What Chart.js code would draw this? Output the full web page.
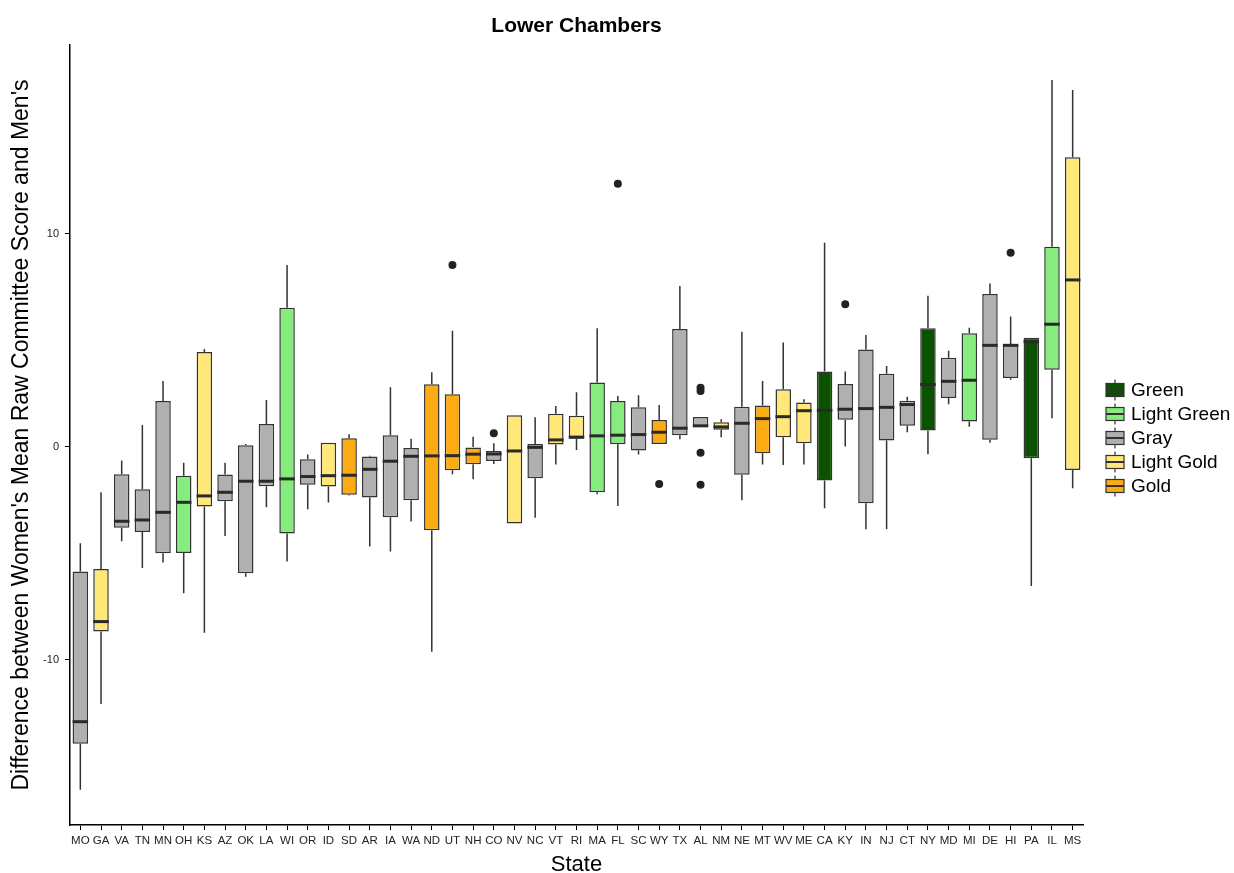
<!DOCTYPE html>
<html>
<head>
<meta charset="utf-8">
<script src="https://cdn.jsdelivr.net/npm/chart.js@4.4.1/dist/chart.umd.min.js"></script>
<style>
  html, body { margin: 0; padding: 0; background: #ffffff; }
  #wrap { width: 1234px; height: 873px; }
</style>
</head>
<body>
<div id="wrap"><canvas id="c" width="1234" height="873"></canvas></div>
<script>
// ---- data ----
const states = ["MO","GA","VA","TN","MN","OH","KS","AZ","OK","LA","WI","OR","ID","SD","AR","IA","WA","ND","UT","NH","CO","NV","NC","VT","RI","MA","FL","SC","WY","TX","AL","NM","NE","MT","WV","ME","CA","KY","IN","NJ","CT","NY","MD","MI","DE","HI","PA","IL","MS"];
const groups = ["Gray","Light Gold","Gray","Gray","Gray","Light Green","Light Gold","Gray","Gray","Gray","Light Green","Gray","Light Gold","Gold","Gray","Gray","Gray","Gold","Gold","Gold","Gray","Light Gold","Gray","Light Gold","Light Gold","Light Green","Light Green","Gray","Gold","Gray","Gray","Light Gold","Gray","Gold","Light Gold","Light Gold","Green","Gray","Gray","Gray","Gray","Green","Gray","Light Green","Gray","Gray","Green","Light Green","Light Gold"];
const whiskerLow  = [-16.1,-12.07,-4.43,-5.68,-5.43,-6.87,-8.72,-4.18,-6.09,-2.83,-5.38,-2.93,-2.61,-2.28,-4.68,-4.91,-3.5,-9.62,-1.28,-1.52,-0.8,-3.6,-3.32,-0.83,-0.14,-2.22,-2.77,-0.36,0.14,0.36,0.94,0.46,-2.5,-0.83,-0.85,-0.83,-2.88,0.02,-3.86,-3.86,0.69,-0.34,2.0,0.95,0.2,3.15,-6.53,1.35,-1.94];
const quartile1   = [-13.94,-8.67,-3.8,-3.99,-4.99,-4.98,-2.8,-2.55,-5.93,-1.85,-4.07,-1.77,-1.86,-2.25,-2.38,-3.3,-2.5,-3.91,-1.1,-0.81,-0.66,-3.6,-1.47,0.11,0.38,-2.13,0.13,-0.17,0.14,0.55,0.94,0.81,-1.31,-0.3,0.46,0.17,-1.58,1.28,-2.65,0.3,1.0,0.77,2.3,1.19,0.34,3.24,-0.53,3.62,-1.08];
const medians     = [-12.9,-8.2,-3.49,-3.43,-3.07,-2.6,-2.3,-2.13,-1.61,-1.61,-1.5,-1.39,-1.35,-1.33,-1.05,-0.67,-0.44,-0.42,-0.41,-0.34,-0.33,-0.19,-0.02,0.33,0.46,0.52,0.55,0.58,0.69,0.88,0.99,0.94,1.11,1.33,1.42,1.7,1.72,1.77,1.8,1.86,1.99,2.93,3.08,3.13,4.77,4.77,4.94,5.76,7.84];
const quartile3   = [-5.85,-5.73,-1.28,-1.99,2.16,-1.35,4.46,-1.3,0.08,1.08,6.53,-0.58,0.2,0.41,-0.45,0.55,-0.05,2.94,2.47,0.0,-0.19,1.49,0.14,1.56,1.46,3.02,2.16,1.86,1.27,5.54,1.41,1.16,1.89,1.94,2.71,2.08,3.54,2.96,4.57,3.43,2.17,5.57,4.19,5.34,7.18,4.8,5.12,9.4,13.6];
const whiskerHigh = [-4.52,-2.13,-0.64,1.03,3.1,-0.74,4.6,-0.74,0.14,2.2,8.54,-0.36,0.2,0.6,-0.42,2.8,0.38,3.51,5.46,0.48,0.17,1.49,1.39,1.92,2.57,5.57,2.39,2.43,1.97,7.56,1.41,1.3,5.41,3.1,4.9,2.24,9.59,3.54,5.26,3.8,2.36,7.1,4.52,5.6,7.67,6.12,5.13,17.23,16.76];
const outlierStates = ["UT","CO","FL","WY","AL","AL","AL","AL","KY","HI"];
const outlierValues = [8.54,0.64,12.35,-1.74,2.78,2.63,-0.27,-1.78,6.7,9.12];
const legendNames = ["Green","Light Green","Gray","Light Gold","Gold"];
const yTickValues = [-10, 0, 10];

// ---- styles ----
const palette = {"Green":"#0b5100","Light Green":"#85ec7e","Gray":"#b0b0b0","Light Gold":"#ffe877","Gold":"#fbab13"};
const lineCol = "#333333";
const FONT = "'Liberation Sans', Arial, Helvetica, sans-serif";

const boxPlugin = {
  id: 'boxExtras',
  beforeDatasetsDraw(chart) {
    const ctx = chart.ctx, x = chart.scales.x, y = chart.scales.y;
    ctx.save();
    ctx.strokeStyle = lineCol;
    ctx.lineWidth = 1.5;
    states.forEach((s, i) => {
      const px = x.getPixelForValue(i);
      ctx.beginPath();
      ctx.moveTo(px, y.getPixelForValue(whiskerHigh[i]));
      ctx.lineTo(px, y.getPixelForValue(quartile3[i]));
      ctx.moveTo(px, y.getPixelForValue(quartile1[i]));
      ctx.lineTo(px, y.getPixelForValue(whiskerLow[i]));
      ctx.stroke();
    });
    ctx.restore();
  },
  afterDatasetsDraw(chart) {
    const ctx = chart.ctx, x = chart.scales.x, y = chart.scales.y;
    const meta = chart.getDatasetMeta(0);
    ctx.save();
    ctx.strokeStyle = "#2a2a2a";
    ctx.lineWidth = 3;
    states.forEach((s, i) => {
      const bar = meta.data[i];
      const half = bar.width / 2;
      const py = y.getPixelForValue(medians[i]);
      ctx.beginPath();
      ctx.moveTo(bar.x - half, py);
      ctx.lineTo(bar.x + half, py);
      ctx.stroke();
    });
    ctx.fillStyle = "#222222";
    outlierStates.forEach((s, k) => {
      const px = x.getPixelForValue(states.indexOf(s));
      const py = y.getPixelForValue(outlierValues[k]);
      ctx.beginPath();
      ctx.arc(px, py, 4, 0, Math.PI * 2);
      ctx.fill();
    });
    ctx.restore();
  },
  afterDraw(chart) {
    const ctx = chart.ctx, a = chart.chartArea;
    ctx.save();
    // title
    ctx.fillStyle = "#000";
    ctx.font = "bold 21px " + FONT;
    ctx.textAlign = "center";
    ctx.textBaseline = "middle";
    ctx.fillText("Lower Chambers", (a.left + a.right) / 2, 26);
    // legend
    const lx = 1106, kw = 18, kh = 13, y0 = 390, dy = 24;
    ctx.font = "19px " + FONT;
    ctx.textAlign = "left";
    legendNames.forEach((name, i) => {
      const cy = y0 + i * dy;
      ctx.strokeStyle = lineCol;
      ctx.lineWidth = 1.2;
      ctx.beginPath();
      ctx.moveTo(lx + kw / 2, cy - kh / 2 - 4);
      ctx.lineTo(lx + kw / 2, cy - kh / 2);
      ctx.moveTo(lx + kw / 2, cy + kh / 2);
      ctx.lineTo(lx + kw / 2, cy + kh / 2 + 4);
      ctx.stroke();
      ctx.fillStyle = palette[name];
      ctx.fillRect(lx, cy - kh / 2, kw, kh);
      ctx.strokeRect(lx, cy - kh / 2, kw, kh);
      ctx.lineWidth = 2;
      ctx.beginPath();
      ctx.moveTo(lx, cy);
      ctx.lineTo(lx + kw, cy);
      ctx.stroke();
      ctx.fillStyle = "#000";
      ctx.fillText(name, lx + kw + 7, cy + 1);
    });
    ctx.restore();
  }
};

new Chart(document.getElementById('c'), {
  type: 'bar',
  data: {
    labels: states,
    datasets: [{
      data: states.map((s, i) => [quartile1[i], quartile3[i]]),
      backgroundColor: groups.map(g => palette[g]),
      borderColor: lineCol,
      borderWidth: 1.5,
      borderSkipped: false,
      barPercentage: 0.75,
      categoryPercentage: 1.0
    }]
  },
  options: {
    responsive: false,
    animation: false,
    devicePixelRatio: 1,
    layout: { padding: { top: 45, right: 151, left: 0, bottom: 0 } },
    plugins: { legend: { display: false }, title: { display: false }, tooltip: { enabled: false } },
    scales: {
      x: {
        offset: true,
        grid: { display: true, offset: false, drawOnChartArea: false, drawTicks: true, tickLength: 5, color: '#000', lineWidth: 1 },
        border: { display: true, color: '#000', width: 1.5 },
        ticks: { autoSkip: false, maxRotation: 0, minRotation: 0, padding: 4, color: '#222', font: { family: FONT, size: 11.5 } },
        title: { display: true, text: 'State', color: '#000', font: { family: FONT, size: 22, lineHeight: 0.75 }, padding: { top: 0, bottom: 0 } },
        afterFit: s => { s.height = 48; }
      },
      y: {
        min: -17.75,
        max: 18.87,
        afterBuildTicks: s => { s.ticks = yTickValues.map(v => ({ value: v })); },
        grid: { display: true, drawOnChartArea: false, drawTicks: true, tickLength: 5, color: '#000', lineWidth: 1 },
        border: { display: true, color: '#000', width: 1.5 },
        ticks: { padding: 6, color: '#222', font: { family: FONT, size: 11 } },
        title: { display: true, text: "Difference between Women's Mean Raw Committee Score and Men's", color: '#000', font: { family: FONT, size: 23, lineHeight: 1.0 }, padding: { top: 10, bottom: 0 } },
        afterFit: s => { s.width = 70; }
      }
    }
  },
  plugins: [boxPlugin]
});
</script>
</body>
</html>
